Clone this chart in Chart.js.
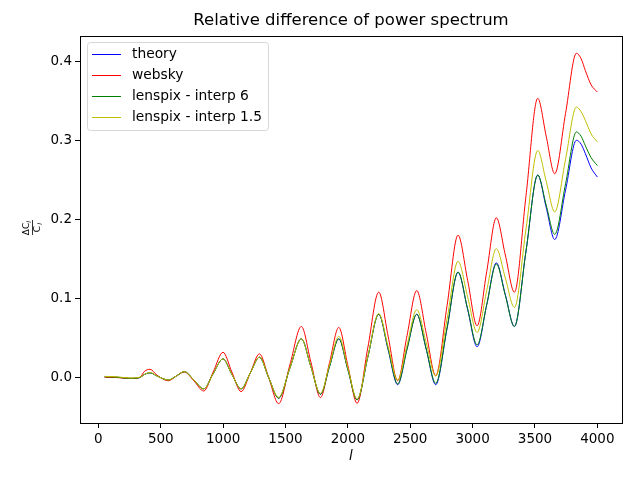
<!DOCTYPE html>
<html>
<head>
<meta charset="utf-8">
<script src="https://cdn.jsdelivr.net/npm/chart.js@4/dist/chart.umd.min.js"></script>
<style>
  html, body { margin: 0; padding: 0; background: #fff; }
  #wrap { width: 640px; height: 480px; }
</style>
</head>
<body>
<div id="wrap"><canvas id="chart" width="640" height="480"></canvas></div>
<script>
// multipole l at the peaks, troughs and half way between
const ells = [50, 150, 250, 330, 370, 414, 470, 561, 625, 689, 765, 844, 920, 999, 1070, 1144, 1218, 1291,
  1365, 1445, 1535, 1627, 1703, 1780, 1853, 1927, 2000, 2074, 2160, 2247, 2323, 2399, 2474, 2552, 2628,
  2704, 2795, 2883, 2960, 3036, 3113, 3190, 3262, 3335, 3428, 3522, 3590, 3658, 3745, 3832, 3870, 3904,
  3950, 4000];

const theory = [0.001, 0.0005, -0.001, 0.0, 0.004, 0.006, 0.002, -0.003, 0.002, 0.0076, -0.003, -0.0143,
  0.005, 0.0237, 0.004, -0.0143, 0.006, 0.0258, 0.0, -0.026, 0.012, 0.049, 0.014, -0.021, 0.014, 0.049,
  0.010, -0.028, 0.026, 0.080, 0.035, -0.009, 0.036, 0.080, 0.036, -0.009, 0.062, 0.133, 0.086, 0.039,
  0.092, 0.145, 0.105, 0.0646, 0.160, 0.256, 0.215, 0.1745, 0.237, 0.300, 0.295, 0.283, 0.265, 0.2535];

const websky = [0.0005, 0.0, -0.001, 0.0, 0.008, 0.0105, 0.003, -0.004, 0.002, 0.007, -0.004, -0.017,
  0.007, 0.032, 0.007, -0.0177, 0.006, 0.030, 0.0, -0.033, 0.016, 0.0646, 0.020, -0.0253, 0.019, 0.0634,
  0.015, -0.0325, 0.038, 0.108, 0.052, -0.004, 0.053, 0.110, 0.056, 0.0025, 0.091, 0.180, 0.123, 0.0655,
  0.134, 0.202, 0.155, 0.108, 0.230, 0.353, 0.305, 0.2577, 0.334, 0.410, 0.403, 0.388, 0.370, 0.361];

const interp6 = [0.001, 0.0005, -0.001, 0.0, 0.004, 0.006, 0.002, -0.003, 0.002, 0.0076, -0.003, -0.0143,
  0.005, 0.0237, 0.004, -0.0143, 0.006, 0.0258, 0.0, -0.026, 0.012, 0.049, 0.014, -0.021, 0.014, 0.049,
  0.010, -0.028, 0.026, 0.080, 0.036, -0.008, 0.036, 0.080, 0.036, -0.0072, 0.063, 0.1335, 0.087, 0.0414,
  0.092, 0.1436, 0.104, 0.0646, 0.160, 0.256, 0.218, 0.181, 0.245, 0.3105, 0.305, 0.293, 0.278, 0.268];

const interp15 = [0.0015, 0.001, -0.0005, 0.0005, 0.004, 0.0065, 0.002, -0.003, 0.002, 0.0076, -0.003, -0.0143,
  0.005, 0.0237, 0.004, -0.0143, 0.006, 0.0258, 0.0, -0.025, 0.012, 0.049, 0.014, -0.020, 0.016, 0.052,
  0.012, -0.027, 0.027, 0.081, 0.039, -0.003, 0.041, 0.0858, 0.044, 0.002, 0.074, 0.147, 0.102, 0.057,
  0.110, 0.163, 0.126, 0.0887, 0.188, 0.287, 0.248, 0.2095, 0.276, 0.342, 0.336, 0.325, 0.308, 0.298];

const xTicks = [0, 500, 1000, 1500, 2000, 2500, 3000, 3500, 4000];
const yTicks = [0.0, 0.1, 0.2, 0.3, 0.4];

const FONT = 'DejaVu Sans';

function pts(vals) {
  return ells.map((l, i) => ({ x: l, y: vals[i] }));
}

function series(label, vals, color, order) {
  return {
    label: label,
    data: pts(vals),
    borderColor: color,
    backgroundColor: color,
    borderWidth: 1,
    pointRadius: 0,
    fill: false,
    cubicInterpolationMode: 'monotone',
    order: order
  };
}

// frame, title, legend box and the fraction label on the y axis
const decor = {
  id: 'decor',
  afterDraw(chart) {
    const ctx = chart.ctx;
    const a = chart.chartArea;
    ctx.save();

    ctx.strokeStyle = '#000';
    ctx.lineWidth = 1;
    ctx.strokeRect(Math.round(a.left) + 0.5, Math.round(a.top) + 0.5,
      Math.round(a.right - a.left), Math.round(a.bottom - a.top));

    ctx.fillStyle = '#000';
    ctx.textAlign = 'center';
    ctx.textBaseline = 'middle';
    ctx.font = '16.5px "' + FONT + '"';
    ctx.fillText('Relative difference of power spectrum', (a.left + a.right) / 2, 21);

    ctx.font = 'italic 13.5px "' + FONT + '"';
    ctx.fillText('l', (a.left + a.right) / 2, 456);

    // y label: ΔC_l / C_l, rotated
    ctx.save();
    ctx.translate(32, 228);
    ctx.rotate(-Math.PI / 2);
    ctx.font = '9px "' + FONT + '"';
    ctx.textAlign = 'center';
    ctx.fillText('ΔC', -1, -5);
    ctx.fillText('C', -1, 6);
    ctx.font = 'italic 6px "' + FONT + '"';
    ctx.fillText('l', 6, -3);
    ctx.fillText('l', 4, 8);
    ctx.fillRect(-7, 0, 15, 0.8);
    ctx.restore();

    // legend
    const bx = 87.5, by = 42.5, bw = 181, bh = 88, r = 3;
    ctx.beginPath();
    ctx.moveTo(bx + r, by);
    ctx.arcTo(bx + bw, by, bx + bw, by + bh, r);
    ctx.arcTo(bx + bw, by + bh, bx, by + bh, r);
    ctx.arcTo(bx, by + bh, bx, by, r);
    ctx.arcTo(bx, by, bx + bw, by, r);
    ctx.closePath();
    ctx.fillStyle = 'rgba(255,255,255,0.8)';
    ctx.fill();
    ctx.strokeStyle = '#d6d6d6';
    ctx.stroke();

    const rows = [54.5, 75.5, 96.5, 117.5];
    ctx.font = '13.8px "' + FONT + '"';
    ctx.textAlign = 'left';
    chart.data.datasets.forEach((ds, i) => {
      ctx.strokeStyle = ds.borderColor;
      ctx.lineWidth = 1;
      ctx.beginPath();
      ctx.moveTo(92, rows[i]);
      ctx.lineTo(121, rows[i]);
      ctx.stroke();
      ctx.fillStyle = '#000';
      ctx.fillText(ds.label, 132, rows[i]);
    });

    ctx.restore();
  }
};

new Chart(document.getElementById('chart').getContext('2d'), {
  type: 'line',
  data: {
    datasets: [
      series('theory', theory, '#0000ff', 3),
      series('websky', websky, '#ff0000', 2),
      series('lenspix - interp 6', interp6, '#008000', 1),
      series('lenspix - interp 1.5', interp15, '#bfbf00', 0)
    ]
  },
  options: {
    responsive: false,
    animation: false,
    layout: { padding: { top: 36, right: 18, bottom: 0, left: 0 } },
    plugins: {
      legend: { display: false },
      title: { display: false },
      tooltip: { enabled: false }
    },
    scales: {
      x: {
        type: 'linear',
        min: -147.5,
        max: 4197.5,
        afterFit(scale) { scale.height = 57; },
        afterBuildTicks(scale) { scale.ticks = xTicks.map(v => ({ value: v })); },
        grid: { drawOnChartArea: false, color: '#000', tickLength: 5, tickWidth: 1 },
        border: { color: '#000', width: 1 },
        ticks: {
          color: '#000',
          padding: 3,
          maxRotation: 0,
          font: { family: FONT, size: 13.5 },
          callback: v => String(v)
        }
      },
      y: {
        type: 'linear',
        min: -0.0574,
        max: 0.4318,
        afterFit(scale) { scale.width = 80; },
        afterBuildTicks(scale) { scale.ticks = yTicks.map(v => ({ value: v })); },
        grid: { drawOnChartArea: false, color: '#000', tickLength: 5, tickWidth: 1 },
        border: { color: '#000', width: 1 },
        ticks: {
          color: '#000',
          padding: 3,
          font: { family: FONT, size: 13.5 },
          callback: v => v.toFixed(1)
        }
      }
    }
  },
  plugins: [decor]
});
</script>
</body>
</html>
